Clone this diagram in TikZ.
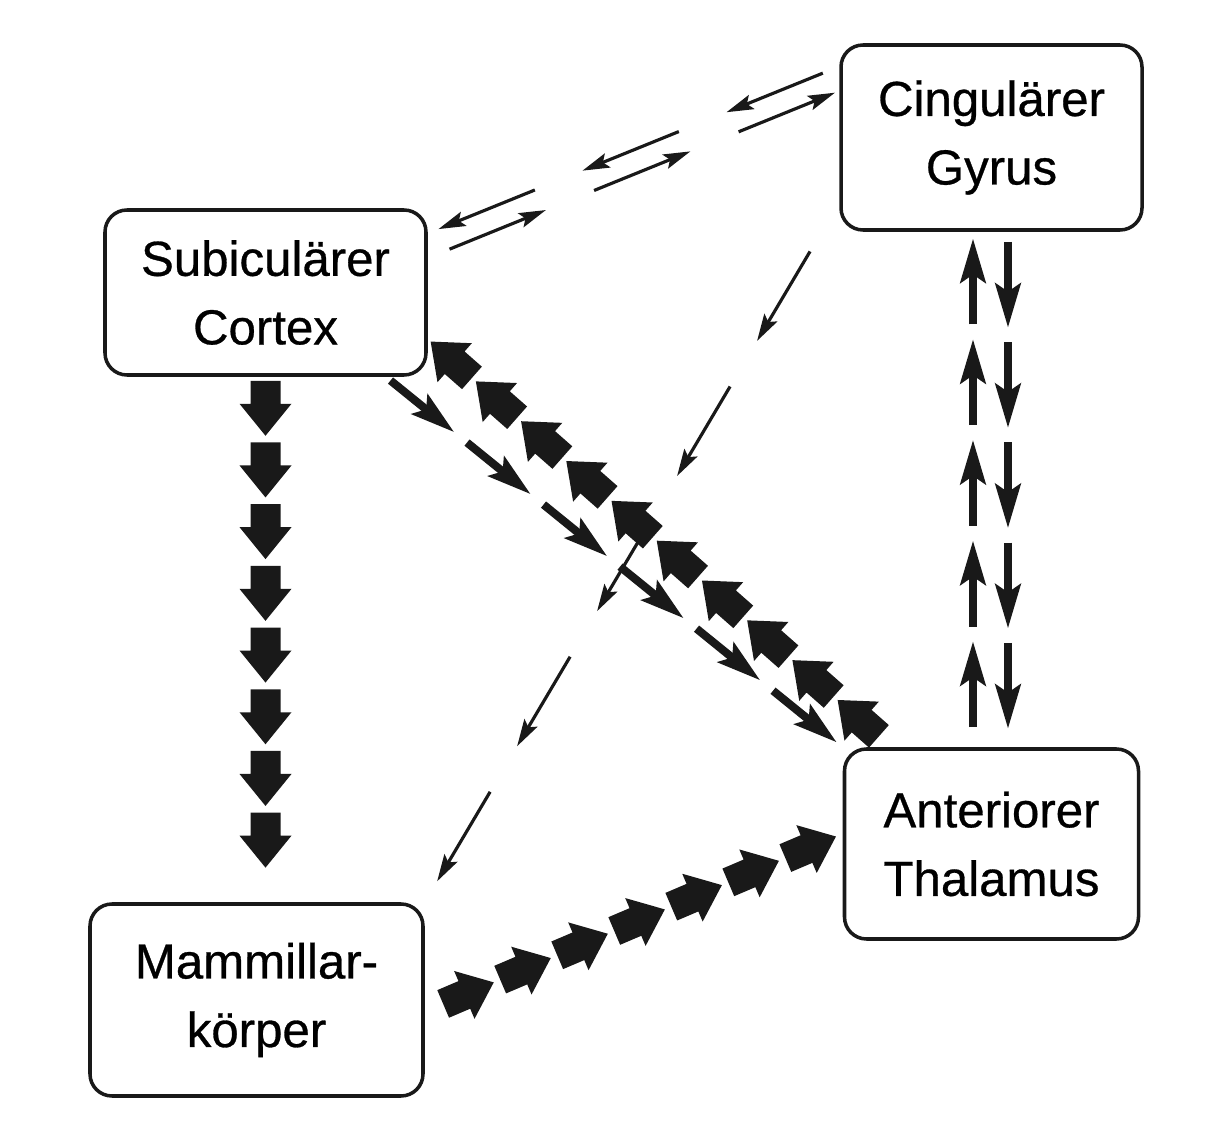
\documentclass[tikz,border=0pt]{standalone}
\usepackage{fontspec}
\setmainfont{Liberation Sans}
\newfontfamily\boxfont{Liberation Sans}[FakeBold=0.6]
\usetikzlibrary{arrows.meta, decorations.markings}

\begin{document}
\begin{tikzpicture}[
    box/.style={draw=black!90, line width=1pt, rounded corners=2.2mm, align=center, inner sep=0pt,
      font=\boxfont\fontsize{14}{19.5}\selectfont},
    fatchain/.style n args={3}{decoration={markings, mark=between positions #1 and #2 step #3 with
      {\fill[black!90] (-0.27,-0.15) -- (-0.04,-0.15) -- (-0.04,-0.26) -- (0.28,0)
        -- (-0.04,0.26) -- (-0.04,0.15) -- (-0.27,0.15) -- cycle;}}, decorate},
    midchain/.style n args={4}{decoration={markings, mark=between positions #1 and #2 step #3 with
      {\draw[black!90, line width=2.3pt, -{Stealth[length=4.4mm, width=2.5mm, inset=0.8mm]}] (0,0) -- (#4,0);}}, decorate},
    thinchain/.style n args={3}{decoration={markings, mark=between positions #1 and #2 step #3 with
      {\draw[black!90, line width=0.9pt, -{Stealth[length=2.7mm, width=1.5mm, inset=0.5mm]}] (0,0) -- (1.04,0);}}, decorate}
  ]

    \useasboundingbox (0, 0) rectangle (12.12, 11.28);

    % --- 1. ボックス ---
    \node[box, minimum width=3.01cm, minimum height=1.85cm] (cing) at (9.915, 9.905) {Cingulärer\\Gyrus};
    \node[box, minimum width=3.21cm, minimum height=1.65cm] (subic) at (2.655, 8.355) {Subiculärer\\Cortex};
    \node[box, minimum width=2.94cm, minimum height=1.90cm] (thal) at (9.915, 2.84) {Anteriorer\\Thalamus};
    \node[box, minimum width=3.33cm, minimum height=1.92cm] (mamm) at (2.565, 1.28) {Mammillar-\\körper};

    % --- 2. 太い矢印の列 ---
    \path[fatchain={0.31cm}{4.66cm}{0.617cm}] (subic.south) -- (subic.south |- mamm.north);
    \path[fatchain={0.435cm}{5.9cm}{0.6026cm}] (thal.136) -- (subic.-16);
    \path[fatchain={0.47cm}{4.22cm}{0.62cm}] (mamm.-4) -- (thal.176);

    % --- 3. 中くらいの矢印: Cortex -> Thalamus, Gyrus <-> Thalamus ---
    \path[midchain={0.06cm}{5.0cm}{0.985cm}{0.82}] (subic.-35) -- (thal.north west);
    \path[midchain={0.2cm}{4.3cm}{1.007cm}{0.86}] ([xshift=-1.85mm]thal.north) -- ([xshift=-1.85mm]cing.south);
    \path[midchain={0.1cm}{4.2cm}{1.0025cm}{0.86}] ([xshift=1.65mm]cing.south) -- ([xshift=1.65mm]thal.north);

    % --- 4. 細い矢印: Gyrus <-> Cortex, Gyrus -> Mammillarkörper ---
    \path[thinchain={0.177cm}{3.4cm}{1.554cm}] (cing.155) -- (subic.20);
    \path[thinchain={0.235cm}{3.45cm}{1.56cm}] (subic.12) -- (cing.163);
    \path[thinchain={0.573cm}{6.95cm}{1.57cm}] (cing.203) -- (mamm.north east);

  \end{tikzpicture}
\end{document}
